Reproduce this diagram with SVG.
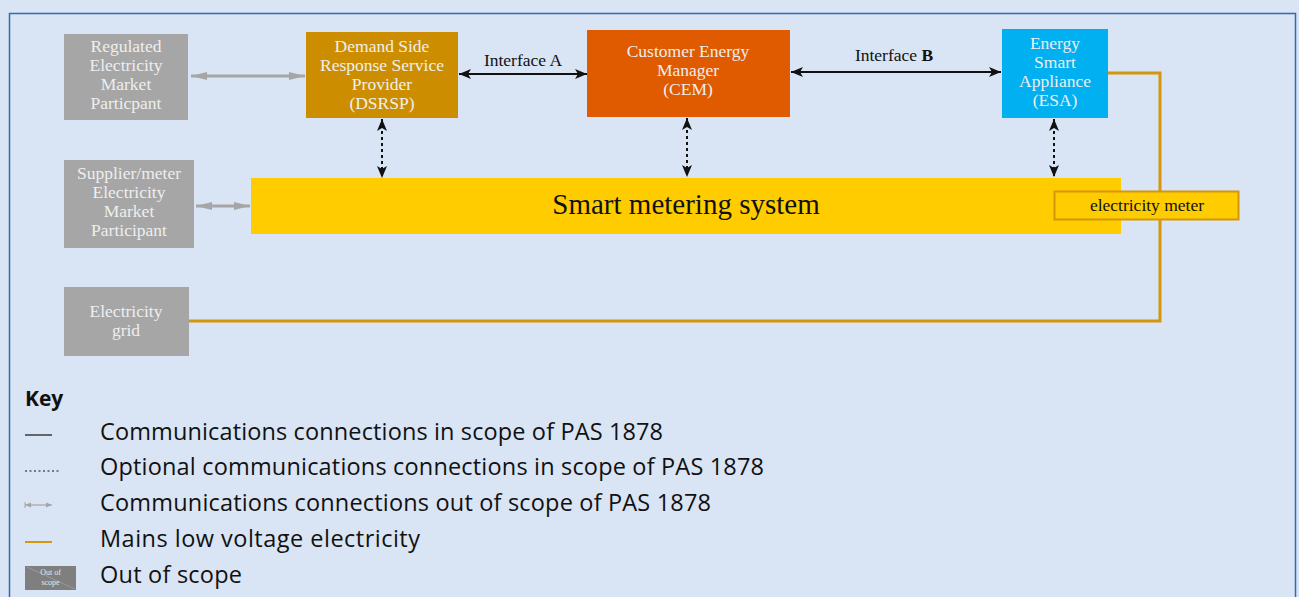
<svg xmlns="http://www.w3.org/2000/svg" width="1299" height="597" viewBox="0 0 1299 597">
  <style>
    .lbl { font-family: "Liberation Serif", "DejaVu Serif", serif; font-size: 17.5px; text-anchor: middle; }
    .lt { fill: #EEEEEE; }
    .dk { fill: #111111; }
    .oos { fill: #A6A6A6; }
    .key { font-family: "Open Sans", "Noto Sans", sans-serif; font-size: 23.5px; fill: #111111; }
    .comm { stroke: #111111; stroke-width: 2; fill: none; }
    .opt { stroke: #111111; stroke-width: 2; stroke-dasharray: 3 3; fill: none; }
    .ext { stroke: #A6A6A6; stroke-width: 3; fill: none; }
    .mains { stroke: #D4960A; stroke-width: 3; fill: none; }
  </style>
  <defs>
    <marker id="ah" viewBox="0 0 12 10" refX="12" refY="5" markerWidth="12" markerHeight="10" markerUnits="userSpaceOnUse" orient="auto-start-reverse">
      <path d="M0,0 L12,5 L0,10 L3,5 z" fill="#111111"/>
    </marker>
    <marker id="gh" viewBox="0 0 16 10" refX="16" refY="5" markerWidth="16" markerHeight="10" markerUnits="userSpaceOnUse" orient="auto-start-reverse">
      <path d="M0,1 L16,5 L0,9 z" fill="#A6A6A6"/>
    </marker>
  </defs>

  <!-- page background and frame -->
  <rect x="0" y="0" width="1299" height="597" fill="#D9E4F4"/>
  <rect x="9.5" y="13.5" width="1286" height="600" fill="#D9E4F4" stroke="#2E6DB4" stroke-width="1.5"/>

  <!-- mains wiring and connectors -->
  <g id="connectors">
    <polyline class="mains" points="1108,73 1160,73 1160,321 189,321"/>
    <line class="ext" x1="191" y1="76" x2="305" y2="76" marker-start="url(#gh)" marker-end="url(#gh)"/>
    <line class="ext" x1="196" y1="206" x2="250" y2="206" marker-start="url(#gh)" marker-end="url(#gh)"/>
    <line class="comm" x1="459" y1="74" x2="587" y2="74" marker-start="url(#ah)" marker-end="url(#ah)"/>
    <line class="comm" x1="791" y1="72" x2="1001" y2="72" marker-start="url(#ah)" marker-end="url(#ah)"/>
    <line class="opt" x1="382" y1="119" x2="382" y2="178" marker-start="url(#ah)" marker-end="url(#ah)"/>
    <line class="opt" x1="687" y1="118" x2="687" y2="177" marker-start="url(#ah)" marker-end="url(#ah)"/>
    <line class="opt" x1="1054" y1="119" x2="1054" y2="177" marker-start="url(#ah)" marker-end="url(#ah)"/>
    <text class="lbl dk" x="523" y="66">Interface A</text>
    <text class="lbl dk" x="894" y="61">Interface <tspan font-weight="bold">B</tspan></text>
  </g>

  <g id="regulated-participant">
    <rect class="oos" x="64" y="34" width="124" height="86"/>
    <text class="lbl lt" x="126" y="52">Regulated</text>
    <text class="lbl lt" x="126" y="71">Electricity</text>
    <text class="lbl lt" x="126" y="90">Market</text>
    <text class="lbl lt" x="126" y="109">Particpant</text>
  </g>

  <g id="supplier-participant">
    <rect class="oos" x="64" y="160" width="130" height="88"/>
    <text class="lbl lt" x="129" y="179">Supplier/meter</text>
    <text class="lbl lt" x="129" y="198">Electricity</text>
    <text class="lbl lt" x="129" y="217">Market</text>
    <text class="lbl lt" x="129" y="236">Participant</text>
  </g>

  <g id="electricity-grid">
    <rect class="oos" x="64" y="287" width="125" height="69"/>
    <text class="lbl lt" x="126" y="317">Electricity</text>
    <text class="lbl lt" x="126" y="336">grid</text>
  </g>

  <g id="dsrsp">
    <rect x="306" y="32" width="152" height="86" fill="#CC8E00"/>
    <text class="lbl lt" x="382" y="52">Demand Side</text>
    <text class="lbl lt" x="382" y="71">Response Service</text>
    <text class="lbl lt" x="382" y="90">Provider</text>
    <text class="lbl lt" x="382" y="109">(DSRSP)</text>
  </g>

  <g id="cem">
    <rect x="587" y="30" width="203" height="87" fill="#E05A00"/>
    <text class="lbl lt" x="688" y="57">Customer Energy</text>
    <text class="lbl lt" x="688" y="76">Manager</text>
    <text class="lbl lt" x="688" y="95">(CEM)</text>
  </g>

  <g id="esa">
    <rect x="1002" y="29" width="106" height="89" fill="#00B0F0"/>
    <text class="lbl lt" x="1055" y="49">Energy</text>
    <text class="lbl lt" x="1055" y="68">Smart</text>
    <text class="lbl lt" x="1055" y="87">Appliance</text>
    <text class="lbl lt" x="1055" y="106">(ESA)</text>
  </g>

  <g id="smart-metering-system">
    <rect x="251" y="178" width="870" height="56" fill="#FFCC00"/>
    <text x="686" y="214" font-family="Liberation Serif, DejaVu Serif, serif" font-size="29" text-anchor="middle" fill="#111111">Smart metering system</text>
  </g>

  <g id="electricity-meter">
    <rect x="1054.5" y="191.5" width="184" height="28" fill="#FFCC00" stroke="#D4960A" stroke-width="2"/>
    <text class="lbl dk" x="1147" y="211">electricity meter</text>
  </g>

  <!-- key -->
  <g id="key">
    <text x="25" y="406" font-family="Open Sans, Noto Sans, sans-serif" font-size="21" font-weight="bold" fill="#111111">Key</text>
    <line x1="25" y1="435" x2="52" y2="435" stroke="#111111" stroke-width="1.2"/>
    <text class="key" x="100" y="440" textLength="563" lengthAdjust="spacing">Communications connections in scope of PAS 1878</text>
    <line x1="25" y1="471" x2="60" y2="471" stroke="#111111" stroke-width="1.2" stroke-dasharray="2 2.5"/>
    <text class="key" x="100" y="475" textLength="664" lengthAdjust="spacing">Optional communications connections in scope of PAS 1878</text>
    <line x1="25" y1="505" x2="52" y2="505" stroke="#A6A6A6" stroke-width="1.2"/>
    <line x1="25" y1="502" x2="25" y2="508" stroke="#A6A6A6" stroke-width="1"/>
    <path d="M25,505 l6,-2.5 v5 z M52,505 l-6,-2.5 v5 z" fill="#A6A6A6"/>
    <text class="key" x="100" y="511" textLength="611" lengthAdjust="spacing">Communications connections out of scope of PAS 1878</text>
    <line x1="25" y1="542" x2="52" y2="542" stroke="#D4960A" stroke-width="2"/>
    <text class="key" x="100" y="547" textLength="320" lengthAdjust="spacing">Mains low voltage electricity</text>
    <rect x="25" y="566" width="51" height="24" fill="#7F7F7F"/>
    <line x1="27" y1="567" x2="75" y2="589" stroke="#A0A0A0" stroke-width="0.8"/>
    <text x="50.5" y="575" font-family="Liberation Serif, serif" font-size="8" text-anchor="middle" fill="#E8E8E8">Out of</text>
    <text x="50.5" y="585" font-family="Liberation Serif, serif" font-size="8" text-anchor="middle" fill="#E8E8E8">scope</text>
    <text class="key" x="100" y="583" textLength="142" lengthAdjust="spacing">Out of scope</text>
  </g>
</svg>
